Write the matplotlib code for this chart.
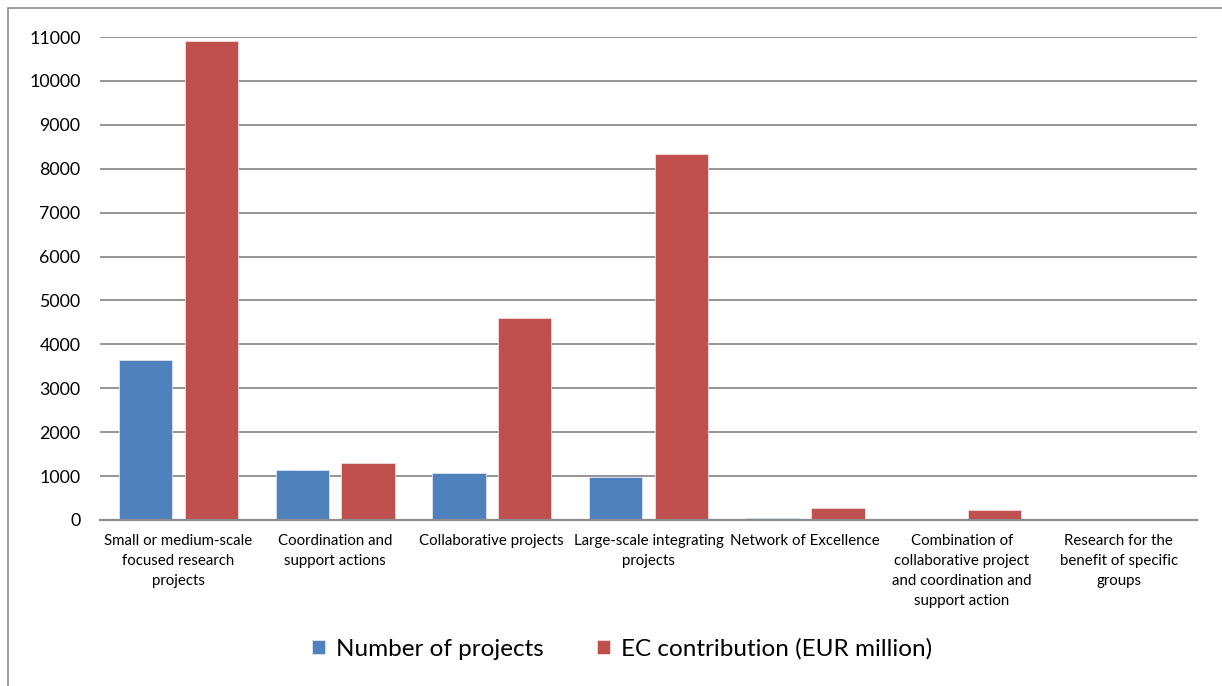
import numpy as np
import matplotlib.pyplot as plt
from matplotlib.patches import Rectangle

plt.rcParams['font.family'] = ['Lato', 'DejaVu Sans']

categories = [
    "Small or medium-scale\nfocused research\nprojects",
    "Coordination and\nsupport actions",
    "Collaborative projects",
    "Large-scale integrating\nprojects",
    "Network of Excellence",
    "Combination of\ncollaborative project\nand coordination and\nsupport action",
    "Research for the\nbenefit of specific\ngroups",
]
n_projects = [3650, 1140, 1075, 980, 50, 15, 2]
ec_contribution = [10900, 1300, 4590, 8330, 275, 230, 15]
yticks = list(range(0, 11001, 1000))

blue = '#4F81BD'
red = '#C0504D'
grid = '#8C8C8C'

fig = plt.figure(figsize=(12.22, 6.86), dpi=100)
ax = fig.add_axes([100 / 1222, 1 - 520 / 686, 1097 / 1222, (520 - 37) / 686])

x = np.arange(len(categories))
w = 0.34
off = 0.21
ax.bar(x - off, n_projects, w, color=blue, edgecolor='#dfe6f0', linewidth=0.6,
       label='Number of projects', zorder=3)
ax.bar(x + off, ec_contribution, w, color=red, edgecolor='#f0dcdc', linewidth=0.6,
       label='EC contribution (EUR million)', zorder=3)

ax.set_xlim(-0.5, len(categories) - 0.5)
ax.set_ylim(0, 11000)
ax.set_yticks(yticks)
ax.set_yticklabels([str(v) for v in yticks], fontsize=12.8)
ax.set_xticks(x)
ax.set_xticklabels(categories, fontsize=10.8, linespacing=1.55, va='top')
ax.tick_params(axis='both', length=0, colors='black')
ax.tick_params(axis='y', pad=14)
ax.tick_params(axis='x', pad=10)

ax.yaxis.grid(True, color=grid, linewidth=1.3, zorder=0)
for s in ['top', 'right', 'left']:
    ax.spines[s].set_visible(False)
ax.spines['bottom'].set_color(grid)
ax.spines['bottom'].set_linewidth(1.6)
ax.spines['bottom'].set_zorder(4)

leg = fig.legend(loc='center', bbox_to_anchor=(622 / 1222, 1 - 649 / 686), ncol=2,
                 frameon=False, fontsize=17.5, handlelength=0.55, handleheight=0.55,
                 handletextpad=0.45, columnspacing=2.2)

# outer frame of the chart area
fig.patches.append(Rectangle((8 / 1222, -0.1), 1.2, 1 - 8 / 686 + 0.1,
                             transform=fig.transFigure, fill=False,
                             edgecolor='#8C8C8C', linewidth=1.2))

fig.savefig('out.png', dpi=100)
